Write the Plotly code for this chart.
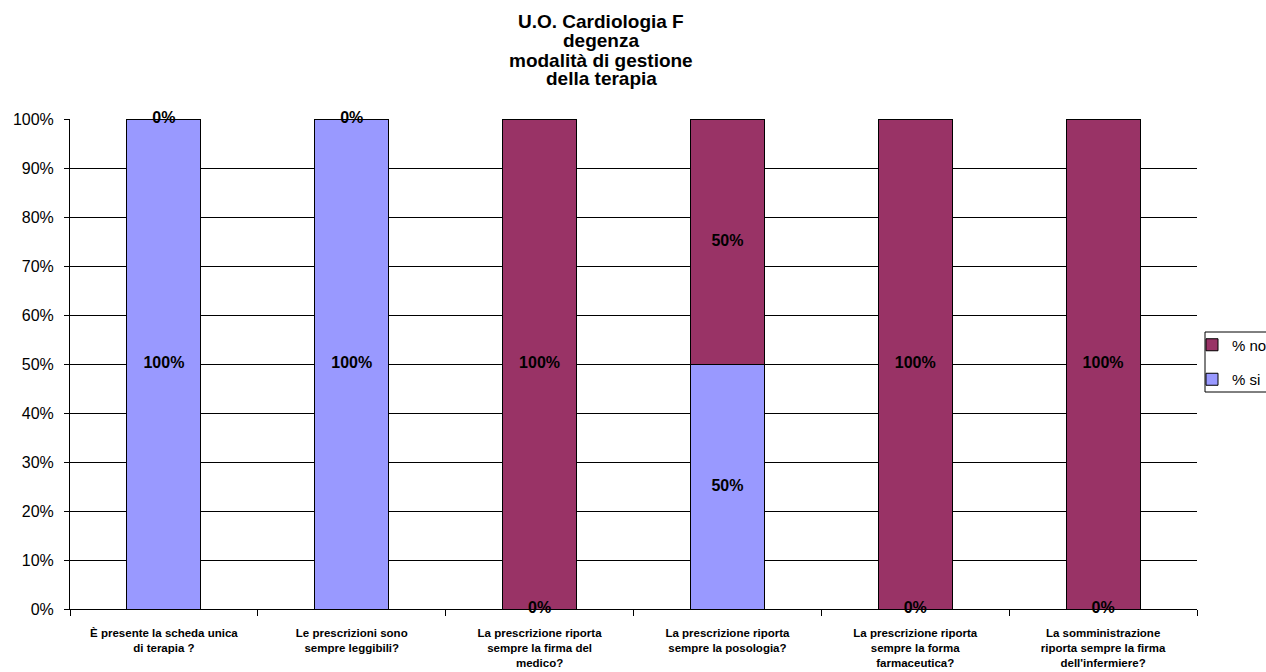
import plotly.graph_objects as go

categories = [
    "È presente la scheda unica<br>di terapia ?",
    "Le prescrizioni sono<br>sempre leggibili?",
    "La prescrizione riporta<br>sempre la firma del<br>medico?",
    "La prescrizione riporta<br>sempre la posologia?",
    "La prescrizione riporta<br>sempre la forma<br>farmaceutica?",
    "La somministrazione<br>riporta sempre la firma<br>dell'infermiere?",
]
pct_si = [1.0, 1.0, 0.0, 0.5, 0.0, 0.0]
pct_no = [0.0, 0.0, 1.0, 0.5, 1.0, 1.0]
y_ticks = [i / 10 for i in range(11)]
y_ticklabels = [f"{i*10}%" for i in range(11)]
title_lines = ["U.O. Cardiologia F", "degenza", "modalità di gestione", "della terapia"]

W, H = 1266, 672
L, R, T, B = 70, 69, 119, 63
PH = H - T - B
PW = W - L - R

def py(pix):  # page pixel y -> paper y
    return (H - B - pix) / PH

def px(pix):  # page pixel x -> paper x
    return (pix - L) / PW

x = list(range(len(categories)))
col_si = "#9999FF"
col_no = "#993366"

fig = go.Figure()
fig.add_trace(go.Bar(x=x, y=pct_si, name="% si", legendgroup="si", legendrank=2,
                     marker=dict(color=col_si, line=dict(color="black", width=1)),
                     width=0.394, hoverinfo="skip"))
fig.add_trace(go.Bar(x=x, y=pct_no, name="% no", legendgroup="no", legendrank=1,
                     marker=dict(color=col_no, line=dict(color="black", width=1)),
                     width=0.394, hoverinfo="skip"))

lab_x, lab_y, lab_t = [], [], []
for i in x:
    lab_x.append(i); lab_y.append(pct_si[i] / 2); lab_t.append(f"{round(pct_si[i]*100)}%")
    lab_x.append(i); lab_y.append(pct_si[i] + pct_no[i] / 2); lab_t.append(f"{round(pct_no[i]*100)}%")
fig.add_trace(go.Scatter(x=lab_x, y=lab_y, text=lab_t, mode="text", showlegend=False,
                         textfont=dict(family="Arial", size=16, color="black", weight="bold"),
                         cliponaxis=False, hoverinfo="skip"))

title_centers = [21, 40, 60, 79]
for line, c in zip(title_lines, title_centers):
    fig.add_annotation(text=line, xref="paper", yref="paper", x=px(601), y=py(c),
                       xanchor="center", yanchor="middle", showarrow=False,
                       font=dict(family="Arial", size=19, color="black", weight="bold"))

fig.add_shape(type="rect", xref="paper", yref="paper",
              x0=px(1205), x1=px(1275), y0=py(392), y1=py(332),
              line=dict(color="black", width=1), fillcolor="rgba(0,0,0,0)", layer="above")

fig.update_layout(
    width=W, height=H,
    barmode="stack",
    plot_bgcolor="white", paper_bgcolor="white",
    margin=dict(l=L, r=R, t=T, b=B, autoexpand=False),
    font=dict(family="Arial", color="black"),
    legend=dict(xref="container", x=1192 / W, xanchor="left", yref="container", y=1 - 362 / H,
                yanchor="middle", traceorder="grouped", tracegroupgap=12,
                borderwidth=0, bgcolor="rgba(0,0,0,0)",
                font=dict(family="Arial", size=15, color="black"), itemwidth=30),
    showlegend=True,
)
fig.update_xaxes(range=[-0.5, 5.5], tickvals=x, ticktext=categories, ticks="",
                 tickfont=dict(family="Arial", size=11.5, color="black", weight="bold"),
                 ticklabelstandoff=13,
                 showline=True, linecolor="black", linewidth=1, showgrid=False, zeroline=False,
                 minor=dict(tickvals=[i - 0.5 for i in range(len(categories) + 1)], ticks="outside",
                            ticklen=6, tickcolor="black", showgrid=False))
fig.update_yaxes(range=[0, 1], tickvals=y_ticks, ticktext=y_ticklabels, ticks="outside", ticklen=5,
                 tickcolor="black", tickfont=dict(family="Arial", size=16, color="black"),
                 ticklabelstandoff=7,
                 showline=True, linecolor="black", linewidth=1, showgrid=True, gridcolor="black",
                 gridwidth=1, zeroline=False)

fig.write_html("out.html", config={"displayModeBar": False},
               post_script="document.body.style.margin='0';document.body.style.overflow='hidden';")
